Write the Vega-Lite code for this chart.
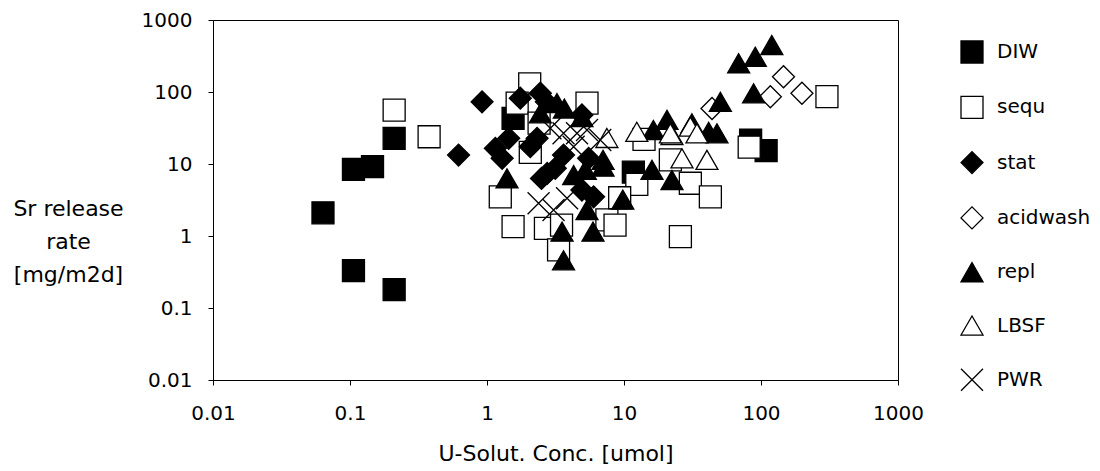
{
  "$schema": "https://vega.github.io/schema/vega-lite/v6.json",
  "width": 685,
  "height": 360,
  "autosize": "none",
  "padding": {"left": 213, "top": 20, "right": 202, "bottom": 91},
  "background": "white",
  "config": {
    "view": {"stroke": "black", "strokeWidth": 1},
    "font": "DejaVu Sans",
    "axis": {
      "domainColor": "black",
      "tickColor": "black",
      "labelColor": "black",
      "titleColor": "black",
      "labelFont": "DejaVu Sans",
      "titleFont": "DejaVu Sans",
      "labelFontSize": 20,
      "titleFontSize": 22,
      "titleFontWeight": "normal",
      "tickSize": 5,
      "grid": false,
      "labelFlush": false,
      "labelOverlap": false
    },
    "legend": {
      "labelFont": "DejaVu Sans",
      "labelFontSize": 20,
      "labelColor": "black"
    }
  },
  "data": {
    "values": [
      {"series": "DIW", "conc": 0.0635, "rate": 2.1},
      {"series": "DIW", "conc": 0.106, "rate": 8.4},
      {"series": "DIW", "conc": 0.146, "rate": 9.2},
      {"series": "DIW", "conc": 0.21, "rate": 22.7},
      {"series": "DIW", "conc": 0.106, "rate": 0.33},
      {"series": "DIW", "conc": 0.21, "rate": 0.18},
      {"series": "DIW", "conc": 1.55, "rate": 43},
      {"series": "DIW", "conc": 11.7, "rate": 7.7},
      {"series": "DIW", "conc": 84, "rate": 21.5},
      {"series": "DIW", "conc": 109, "rate": 15.3},
      {"series": "sequ", "conc": 0.21, "rate": 56},
      {"series": "sequ", "conc": 0.378, "rate": 23.9},
      {"series": "sequ", "conc": 2.05, "rate": 130},
      {"series": "sequ", "conc": 1.25, "rate": 3.5},
      {"series": "sequ", "conc": 1.55, "rate": 1.35},
      {"series": "sequ", "conc": 1.66, "rate": 70},
      {"series": "sequ", "conc": 2.07, "rate": 14.5},
      {"series": "sequ", "conc": 2.67, "rate": 1.28},
      {"series": "sequ", "conc": 3.5, "rate": 1.42},
      {"series": "sequ", "conc": 5.37, "rate": 70},
      {"series": "sequ", "conc": 3.33, "rate": 0.64},
      {"series": "sequ", "conc": 2.4, "rate": 37},
      {"series": "sequ", "conc": 7.5, "rate": 1.67},
      {"series": "sequ", "conc": 8.6, "rate": 1.42},
      {"series": "sequ", "conc": 14, "rate": 22},
      {"series": "sequ", "conc": 12.4, "rate": 5.2},
      {"series": "sequ", "conc": 25.8, "rate": 0.98},
      {"series": "sequ", "conc": 303, "rate": 86},
      {"series": "sequ", "conc": 82, "rate": 17.1},
      {"series": "sequ", "conc": 30.5, "rate": 5.4},
      {"series": "sequ", "conc": 42.7, "rate": 3.5},
      {"series": "sequ", "conc": 21.8, "rate": 11.4},
      {"series": "sequ", "conc": 9.3, "rate": 3.4},
      {"series": "stat", "conc": 0.92, "rate": 73},
      {"series": "stat", "conc": 0.62, "rate": 13.3},
      {"series": "stat", "conc": 1.15, "rate": 16.5},
      {"series": "stat", "conc": 1.29, "rate": 12},
      {"series": "stat", "conc": 1.44, "rate": 22.7},
      {"series": "stat", "conc": 1.75, "rate": 82},
      {"series": "stat", "conc": 2.07, "rate": 17.4},
      {"series": "stat", "conc": 2.45, "rate": 96},
      {"series": "stat", "conc": 2.5, "rate": 6.3},
      {"series": "stat", "conc": 2.32, "rate": 22.7},
      {"series": "stat", "conc": 2.71, "rate": 73},
      {"series": "stat", "conc": 2.75, "rate": 7.4},
      {"series": "stat", "conc": 3.15, "rate": 8.7},
      {"series": "stat", "conc": 3.62, "rate": 13.3},
      {"series": "stat", "conc": 4.93, "rate": 48},
      {"series": "stat", "conc": 6.0, "rate": 3.5},
      {"series": "stat", "conc": 4.93, "rate": 4.35},
      {"series": "stat", "conc": 5.52, "rate": 12},
      {"series": "acidwash", "conc": 146, "rate": 163},
      {"series": "acidwash", "conc": 117, "rate": 86},
      {"series": "acidwash", "conc": 199, "rate": 96},
      {"series": "acidwash", "conc": 43.9, "rate": 59},
      {"series": "repl", "conc": 1.4, "rate": 6.3},
      {"series": "repl", "conc": 2.45, "rate": 50.6},
      {"series": "repl", "conc": 3.24, "rate": 70},
      {"series": "repl", "conc": 3.67, "rate": 59},
      {"series": "repl", "conc": 4.93, "rate": 45},
      {"series": "repl", "conc": 4.29, "rate": 7.0},
      {"series": "repl", "conc": 5.22, "rate": 8.3},
      {"series": "repl", "conc": 7.03, "rate": 11.4},
      {"series": "repl", "conc": 7.03, "rate": 9.2},
      {"series": "repl", "conc": 5.37, "rate": 2.3},
      {"series": "repl", "conc": 3.53, "rate": 1.15},
      {"series": "repl", "conc": 5.94, "rate": 1.15},
      {"series": "repl", "conc": 3.62, "rate": 0.46},
      {"series": "repl", "conc": 9.8, "rate": 3.2},
      {"series": "repl", "conc": 16, "rate": 8.3},
      {"series": "repl", "conc": 20.6, "rate": 41},
      {"series": "repl", "conc": 22.4, "rate": 6.0},
      {"series": "repl", "conc": 68.7, "rate": 251},
      {"series": "repl", "conc": 90.9, "rate": 309},
      {"series": "repl", "conc": 120, "rate": 450},
      {"series": "repl", "conc": 88.3, "rate": 96},
      {"series": "repl", "conc": 50.5, "rate": 73},
      {"series": "repl", "conc": 41.5, "rate": 28},
      {"series": "repl", "conc": 47.7, "rate": 26.7},
      {"series": "repl", "conc": 31.3, "rate": 36.7},
      {"series": "repl", "conc": 16.4, "rate": 29.7},
      {"series": "LBSF", "conc": 12.4, "rate": 28},
      {"series": "LBSF", "conc": 22.4, "rate": 25.3},
      {"series": "LBSF", "conc": 26.5, "rate": 12},
      {"series": "LBSF", "conc": 40.3, "rate": 11.4},
      {"series": "LBSF", "conc": 30.5, "rate": 33},
      {"series": "LBSF", "conc": 34.1, "rate": 26.7},
      {"series": "LBSF", "conc": 7.5, "rate": 23},
      {"series": "LBSF", "conc": 21.8, "rate": 26.7},
      {"series": "PWR", "conc": 2.38, "rate": 2.85},
      {"series": "PWR", "conc": 3.84, "rate": 3.34},
      {"series": "PWR", "conc": 3.62, "rate": 26.7},
      {"series": "PWR", "conc": 6.71, "rate": 21.5},
      {"series": "PWR", "conc": 5.37, "rate": 29.7},
      {"series": "PWR", "conc": 4.54, "rate": 26.7},
      {"series": "PWR", "conc": 3.06, "rate": 2.3},
      {"series": "PWR", "conc": 4.29, "rate": 17.4},
      {"series": "PWR", "conc": 2.9, "rate": 31.3}
    ]
  },
  "mark": {"type": "point", "filled": true, "opacity": 1, "fillOpacity": 1, "strokeOpacity": 1, "strokeWidth": 1.3},
  "encoding": {
    "x": {
      "field": "conc",
      "type": "quantitative",
      "scale": {"type": "log", "domain": [0.01, 1000], "nice": false},
      "axis": {
        "values": [0.01, 0.1, 1, 10, 100, 1000],
        "format": "~g",
        "title": "U-Solut. Conc.  [umol]",
        "labelPadding": 18,
        "titleY": 73,
        "titleBaseline": "middle"
      }
    },
    "y": {
      "field": "rate",
      "type": "quantitative",
      "scale": {"type": "log", "domain": [0.01, 1000], "nice": false},
      "axis": {
        "values": [0.01, 0.1, 1, 10, 100, 1000],
        "format": "~g",
        "title": ["Sr release", "rate", "[mg/m2d]"],
        "labelPadding": 16,
        "titleAngle": 0,
        "titleAlign": "center",
        "titleBaseline": "middle",
        "titleX": -145,
        "titleY": 188,
        "titleLineHeight": 33
      }
    },
    "shape": {
      "field": "series",
      "type": "nominal",
      "scale": {
        "domain": ["DIW", "sequ", "stat", "acidwash", "repl", "LBSF", "PWR"],
        "range": ["square", "square", "diamond", "diamond", "triangle-up", "triangle-up", "M-1,-1L1,1M-1,1L1,-1"]
      },
      "legend": {
        "title": null,
        "orient": "none",
        "legendX": 747,
        "legendY": 20,
        "padding": 0,
        "rowPadding": 27.3,
        "labelOffset": 13,
        "symbolStrokeWidth": 1.3
      }
    },
    "fill": {
      "field": "series",
      "type": "nominal",
      "scale": {
        "domain": ["DIW", "sequ", "stat", "acidwash", "repl", "LBSF", "PWR"],
        "range": ["black", "white", "black", "white", "black", "white", "white"]
      },
      "legend": {
        "title": null,
        "orient": "none",
        "legendX": 747,
        "legendY": 20,
        "padding": 0,
        "rowPadding": 27.3,
        "labelOffset": 13,
        "symbolStrokeWidth": 1.3
      }
    },
    "stroke": {
      "field": "series",
      "type": "nominal",
      "scale": {
        "domain": ["DIW", "sequ", "stat", "acidwash", "repl", "LBSF", "PWR"],
        "range": ["black", "black", "black", "black", "black", "black", "black"]
      },
      "legend": {
        "title": null,
        "orient": "none",
        "legendX": 747,
        "legendY": 20,
        "padding": 0,
        "rowPadding": 27.3,
        "labelOffset": 13,
        "symbolStrokeWidth": 1.3
      }
    },
    "size": {
      "field": "series",
      "type": "nominal",
      "scale": {
        "domain": ["DIW", "sequ", "stat", "acidwash", "repl", "LBSF", "PWR"],
        "range": [484, 484, 400, 400, 400, 400, 324]
      },
      "legend": {
        "title": null,
        "orient": "none",
        "legendX": 747,
        "legendY": 20,
        "padding": 0,
        "rowPadding": 27.3,
        "labelOffset": 13,
        "symbolStrokeWidth": 1.3
      }
    }
  }
}
